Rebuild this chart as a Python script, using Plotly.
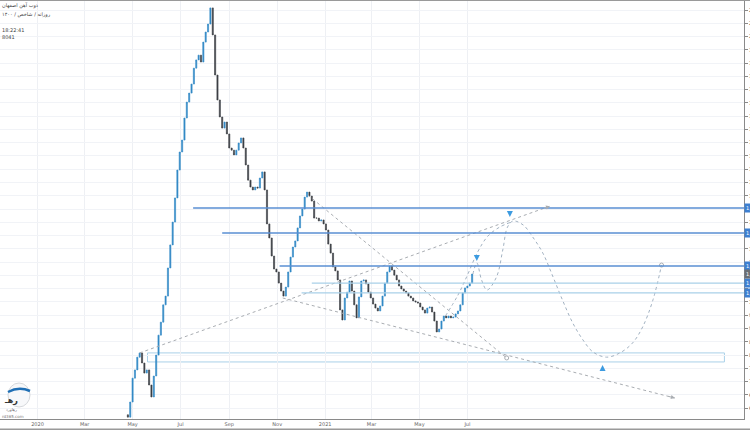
import pandas as pd
import plotly.graph_objects as go

# ---------------- data ----------------
candle_start = "2020-04-25"   # 3-day candles
closes = [566, 623, 713, 744, 792, 808, 770, 732, 744, 687,
          642, 721, 800, 875, 924, 989, 1022, 1128, 1215, 1301,
          1392, 1497, 1565, 1610, 1693, 1753, 1787, 1821, 1881, 1912,
          1930, 1904, 1979, 2017, 2047, 2108, 2006, 1855, 1761, 1697,
          1655, 1678, 1633, 1580, 1572, 1554, 1572, 1599, 1618, 1580,
          1516, 1459, 1433, 1422, 1433, 1429, 1467, 1490, 1422, 1294,
          1241, 1173, 1124, 1113, 1071, 1041, 1022, 1056, 1113, 1169,
          1207, 1230, 1279, 1324, 1350, 1395, 1414, 1399, 1380, 1316,
          1316, 1305, 1309, 1294, 1271, 1218, 1184, 1132, 1117, 1083,
          970, 932, 1015, 1037, 1079, 1041, 989, 940, 1019, 1079,
          1083, 1068, 1037, 1015, 992, 977, 966, 985, 1022, 1071,
          1113, 1135, 1120, 1101, 1083, 1060, 1049, 1041, 1034, 1022,
          1015, 1004, 1000, 996, 981, 970, 958, 977, 981, 962,
          928, 887, 898, 928, 947, 940, 947, 940, 943, 955,
          966, 989, 1034, 1053, 1060, 1071, 1105]
first_open = 575

tick_dates = ["2020-01-01", "2020-03-01", "2020-05-01", "2020-07-01", "2020-09-01",
              "2020-11-01", "2021-01-01", "2021-03-01", "2021-05-01", "2021-07-01"]
tick_text = ["2020", "Mar", "May", "Jul", "Sep", "Nov", "2021", "Mar", "May", "Jul"]

# horizontal levels: (start date, price)
strong_levels = [("2020-07-17", 1354), ("2020-08-23", 1260), ("2020-11-04", 1135)]
light_levels = [("2020-12-15", 1071), ("2020-12-02", 1034)]
zone = ("2020-05-20", "2022-05-24", 774, 808)
last_price = 1105

# trend lines (dates, prices)
trend_up_x = ["2020-05-10", "2021-10-14"];  trend_up_y = [808, 1361]
trend_dn_x = ["2020-12-10", "2021-08-20"];  trend_dn_y = [1403, 789]
trend_lo_x = ["2020-11-08", "2022-03-22"];  trend_lo_y = [1015, 638]

# projected paths
proj1_x = ["2021-07-08", "2021-07-13", "2021-07-19", "2021-07-26", "2021-08-07", "2021-08-15",
           "2021-08-21", "2021-08-28", "2021-09-10", "2021-09-22", "2021-10-05", "2021-10-18",
           "2021-10-30", "2021-11-12", "2021-11-25", "2021-12-08", "2021-12-25", "2022-01-11",
           "2022-01-27", "2022-02-09", "2022-02-22", "2022-03-05"]
proj1_y = [1105, 1147, 1083, 1045, 1094, 1196, 1282, 1305, 1290, 1245, 1184, 1094,
           1007, 921, 857, 811, 792, 808, 845, 906, 1007, 1139]
proj2_x = ["2021-06-03", "2021-06-19", "2021-07-01", "2021-07-14", "2021-07-27", "2021-08-11", "2021-08-26"]
proj2_y = [947, 1026, 1101, 1188, 1248, 1282, 1301]

down_marks_x = ["2021-08-24", "2021-07-13"]; down_marks_y = [1320, 1154]
up_marks_x = ["2021-12-20"]; up_marks_y = [762]

x_range = ["2019-11-14 07:00", "2022-06-17 22:00"]
y_range = [559, 2137.7]

# ---------------- figure ----------------
dates = pd.date_range(candle_start, periods=len(closes), freq="3D")
opens = [first_open] + closes[:-1]
highs = [max(o, c) for o, c in zip(opens, closes)]
lows = [min(o, c) for o, c in zip(opens, closes)]

UP = "#3289c6"
DN = "#3c3f45"
BLUE = "#5a8fd3"
LIGHT = "#a9d0e8"
GREY = "#a9adb2"

fig = go.Figure()

# zone rectangle and horizontal levels
fig.add_shape(type="rect", x0=zone[0], x1=zone[1], y0=zone[2], y1=zone[3],
              line=dict(color=LIGHT, width=1), fillcolor="rgba(0,0,0,0)", layer="below")
for d, p in strong_levels:
    fig.add_shape(type="line", x0=d, x1=x_range[1], y0=p, y1=p, line=dict(color=BLUE, width=1.5))
for d, p in light_levels:
    fig.add_shape(type="line", x0=d, x1=x_range[1], y0=p, y1=p, line=dict(color=LIGHT, width=1.2))

# trend lines
for tx, ty in [(trend_up_x, trend_up_y), (trend_dn_x, trend_dn_y), (trend_lo_x, trend_lo_y)]:
    fig.add_trace(go.Scatter(x=tx, y=ty, mode="lines", line=dict(color=GREY, width=1, dash="dot"),
                             hoverinfo="skip", showlegend=False))

# projected paths
fig.add_trace(go.Scatter(x=proj1_x, y=proj1_y, mode="lines",
                         line=dict(color="#a2b2c2", width=1, dash="dot", shape="spline", smoothing=1.0),
                         hoverinfo="skip", showlegend=False))
fig.add_trace(go.Scatter(x=proj2_x, y=proj2_y, mode="lines",
                         line=dict(color="#a2b2c2", width=1, dash="dot", shape="spline", smoothing=1.0),
                         hoverinfo="skip", showlegend=False))
# end circles
fig.add_trace(go.Scatter(x=[proj1_x[-1], trend_dn_x[-1]], y=[proj1_y[-1], trend_dn_y[-1]], mode="markers",
                         marker=dict(symbol="circle-open", size=4, color=GREY, line=dict(width=1)),
                         hoverinfo="skip", showlegend=False))

# candles
fig.add_trace(go.Candlestick(x=dates, open=opens, high=highs, low=lows, close=closes,
                             increasing=dict(line=dict(color=UP, width=0.6), fillcolor=UP),
                             decreasing=dict(line=dict(color=DN, width=0.6), fillcolor=DN),
                             whiskerwidth=0, showlegend=False, hoverinfo="skip"))

# arrow marks
fig.add_trace(go.Scatter(x=down_marks_x, y=down_marks_y, mode="markers",
                         marker=dict(symbol="arrow-down", size=6, color="#3d9be0"),
                         hoverinfo="skip", showlegend=False))
fig.add_trace(go.Scatter(x=up_marks_x, y=up_marks_y, mode="markers",
                         marker=dict(symbol="arrow-up", size=6, color="#3d9be0"),
                         hoverinfo="skip", showlegend=False))

# arrow heads on trend lines
fig.add_annotation(x=trend_up_x[1], y=trend_up_y[1], ax=-7.5, ay=2.7, text="", showarrow=True,
                   arrowhead=2, arrowsize=0.8, arrowwidth=1, arrowcolor=GREY)
fig.add_annotation(x=trend_lo_x[1], y=trend_lo_y[1], ax=-7.8, ay=-2.0, text="", showarrow=True,
                   arrowhead=2, arrowsize=0.8, arrowwidth=1, arrowcolor=GREY)

# right-axis price labels
for d, p in strong_levels + light_levels:
    fig.add_annotation(xref="paper", x=1, y=p, xanchor="left", yanchor="middle", text=f"{p:,}",
                       showarrow=False, font=dict(size=5, color="white"), bgcolor="#3d7fd1", borderpad=1)
fig.add_annotation(xref="paper", x=1, y=last_price, xanchor="left", yanchor="middle", text=f"{last_price:,}",
                   showarrow=False, font=dict(size=5, color="white"), bgcolor="#6b6f75", borderpad=1)

# header texts (top-left)
for ty, txt in [(5, "ذوب آهن اصفهان"), (14, "روزانه / شاخص / ۱۴۰۰"), (30, "18:22:41"), (37, "8041")]:
    fig.add_annotation(xref="paper", yref="paper", x=0.0, y=1 - ty / 419, xanchor="left", yanchor="middle",
                       text=txt, showarrow=False, font=dict(size=5, color="#444"))

# logo bottom-left
fig.add_shape(type="circle", xref="paper", yref="paper", x0=8 / 744, x1=30 / 744,
              y0=1 - 407 / 419, y1=1 - 383 / 419, line=dict(color="#d5d8dc", width=1), fillcolor="#f7f8fa")
fig.add_shape(type="path", xref="paper", yref="paper",
              path=f"M {8/744},{1-392/419} Q {19/744},{1-386/419} {30/744},{1-391/419}",
              line=dict(color="#1f6fb5", width=2.5))
fig.add_annotation(xref="paper", yref="paper", x=2 / 744, y=1 - 400 / 419, xanchor="left", yanchor="middle",
                   text="<b>رهـ</b>", showarrow=False, font=dict(size=8, color="#333"))
fig.add_annotation(xref="paper", yref="paper", x=4 / 744, y=1 - 409 / 419, xanchor="left", yanchor="middle",
                   text="رهاورد", showarrow=False, font=dict(size=4, color="#666"))
fig.add_annotation(xref="paper", yref="paper", x=0, y=1 - 416 / 419, xanchor="left", yanchor="middle",
                   text="rd365.com", showarrow=False, font=dict(size=4, color="#777"))

# borders
fig.add_shape(type="line", xref="paper", yref="paper", x0=0, x1=1.01, y0=1, y1=1,
              line=dict(color="#9a9a9a", width=2))
fig.add_shape(type="line", xref="paper", yref="paper", x0=0, x1=1.01, y0=-10.5 / 419, y1=-10.5 / 419,
              line=dict(color="#9a9a9a", width=2))

fig.update_layout(
    width=750, height=430,
    margin=dict(l=0, r=6, t=0, b=11),
    paper_bgcolor="white", plot_bgcolor="white",
    font=dict(family="DejaVu Sans", size=5, color="#555"),
    showlegend=False, hovermode=False,
    xaxis=dict(type="date", range=x_range, rangeslider=dict(visible=False),
               tickmode="array", tickvals=tick_dates, ticktext=tick_text,
               tickfont=dict(size=5, color="#666"), ticks="", showgrid=True,
               gridcolor="#eef0f4", gridwidth=1, showline=True, linecolor="#8a8a8a",
               linewidth=1, zeroline=False, automargin=False),
    yaxis=dict(side="right", range=y_range, tickmode="linear", tick0=0, dtick=50,
               tickfont=dict(size=5, color="#555"), ticks="outside", ticklen=3,
               tickcolor="#8a8a8a", showgrid=True, gridcolor="#f1f3f7", gridwidth=1,
               showline=True, linecolor="#8a8a8a", linewidth=1, zeroline=False,
               automargin=False, tickformat=","),
)

fig.write_html("out.html", config={"displayModeBar": False, "staticPlot": True},
               post_script="document.body.style.margin='0';document.body.style.overflow='hidden';")
